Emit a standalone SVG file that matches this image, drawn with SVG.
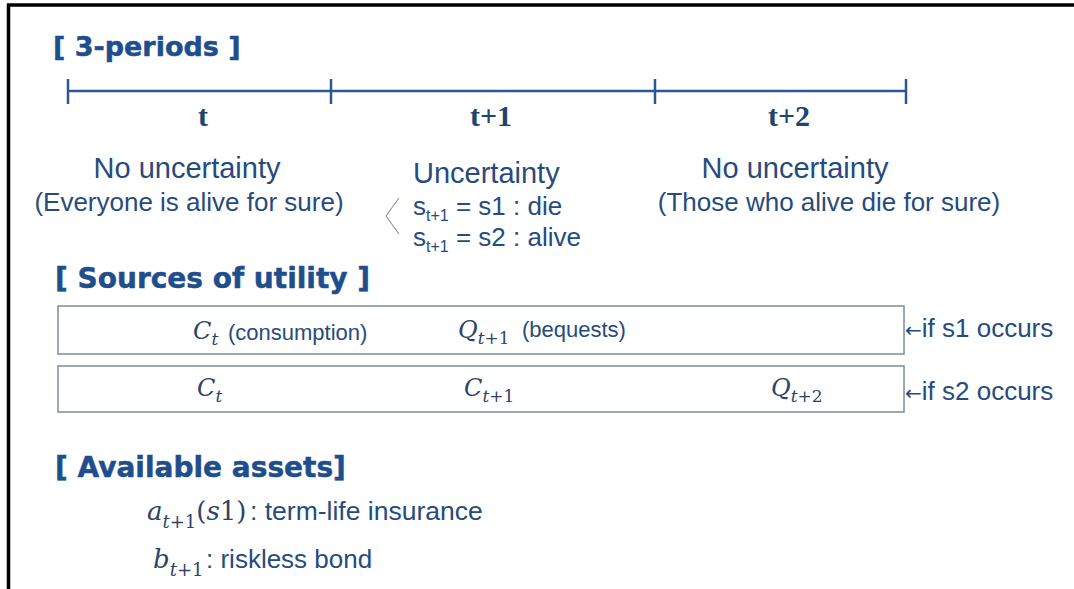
<svg xmlns="http://www.w3.org/2000/svg" width="1074" height="589" viewBox="0 0 1074 589">
<style>
.frame{stroke:#000;stroke-width:3.5;fill:none}
.head{font-family:"DejaVu Sans",sans-serif;font-weight:bold;fill:#1F4E8C;stroke:#1F4E8C;stroke-width:0.5}
.tl{stroke:#2B5797;stroke-width:2.5;fill:none}
.per{font-family:"Liberation Serif",serif;font-weight:bold;font-size:30px;fill:#1F4470;text-anchor:middle}
.txt{font-family:"Liberation Sans",Arial,sans-serif;fill:#264B7D}
.math{font-family:"DejaVu Serif",serif;font-style:italic;fill:#2D4466}
.up{font-style:normal}
.arr{font-family:"DejaVu Sans",sans-serif;font-size:20px}
.box{fill:#fff;stroke:#7F8C9C;stroke-width:1.5}
</style>
<rect width="1074" height="589" fill="#fff"/>
<g id="frame">
<line class="frame" x1="7" y1="5" x2="1074" y2="5"/>
<line class="frame" x1="8.5" y1="4" x2="8.5" y2="589"/>
</g>
<g id="title-periods"><text class="head" x="53" y="56" font-size="27">[ 3-periods ]</text></g>
<g id="timeline">
<line class="tl" x1="68" y1="91" x2="906" y2="91"/>
<line class="tl" x1="68" y1="79" x2="68" y2="104"/>
<line class="tl" x1="331" y1="79" x2="331" y2="104"/>
<line class="tl" x1="655" y1="79" x2="655" y2="104"/>
<line class="tl" x1="906" y1="79" x2="906" y2="104"/>
</g>
<g id="period-t">
<text class="per" x="203" y="126">t</text>
<text class="txt" x="187" y="178" font-size="29" text-anchor="middle">No uncertainty</text>
<text class="txt" x="189" y="211" font-size="26" text-anchor="middle">(Everyone is alive for sure)</text>
</g>
<g id="period-t1">
<text class="per" x="491" y="126">t+1</text>
<text class="txt" x="413" y="183" font-size="29">Uncertainty</text>
<polyline points="399,198 386,216 399,234" fill="none" stroke="#9A9A9A" stroke-width="1.2"/>
<text class="txt" x="413" y="215" font-size="26">s<tspan font-size="16" dy="6">t+1</tspan><tspan dy="-6"> = s1 : die</tspan></text>
<text class="txt" x="413" y="246" font-size="26">s<tspan font-size="16" dy="6">t+1</tspan><tspan dy="-6"> = s2 : alive</tspan></text>
</g>
<g id="period-t2">
<text class="per" x="789" y="126">t+2</text>
<text class="txt" x="795" y="178" font-size="29" text-anchor="middle">No uncertainty</text>
<text class="txt" x="829" y="211" font-size="26" text-anchor="middle">(Those who alive die for sure)</text>
</g>
<g id="title-utility"><text class="head" x="55" y="288" font-size="28">[ Sources of utility ]</text></g>
<g id="row-s1">
<rect class="box" x="58" y="306" width="846" height="48"/>
<text class="math" x="193" y="339" font-size="24">C<tspan font-size="17" dy="6">t</tspan></text>
<text class="txt" x="228" y="340" font-size="22">(consumption)</text>
<text class="math" x="458" y="338" font-size="24">Q<tspan font-size="17" dy="6">t</tspan><tspan class="up" font-size="17">+1</tspan></text>
<text class="txt" x="522" y="337" font-size="22">(bequests)</text>
<text class="txt" x="905" y="337" font-size="26"><tspan class="arr">←</tspan>if s1 occurs</text>
</g>
<g id="row-s2">
<rect class="box" x="58" y="366" width="846" height="46"/>
<text class="math" x="197" y="396" font-size="24">C<tspan font-size="17" dy="6">t</tspan></text>
<text class="math" x="464" y="396" font-size="24">C<tspan font-size="17" dy="6">t</tspan><tspan class="up" font-size="17">+1</tspan></text>
<text class="math" x="771" y="396" font-size="24">Q<tspan font-size="17" dy="6">t</tspan><tspan class="up" font-size="17">+2</tspan></text>
<text class="txt" x="905" y="400" font-size="26"><tspan class="arr">←</tspan>if s2 occurs</text>
</g>
<g id="title-assets"><text class="head" x="55" y="477" font-size="28">[ Available assets]</text></g>
<g id="asset-a">
<text class="math" x="147" y="520" font-size="26">a<tspan font-size="18" dy="8">t</tspan><tspan class="up" font-size="18">+1</tspan><tspan class="up" dy="-8">(</tspan>s<tspan class="up">1)</tspan></text>
<text class="txt" x="250" y="520" font-size="26.5">: term-life insurance</text>
</g>
<g id="asset-b">
<text class="math" x="153" y="568" font-size="26">b<tspan font-size="18" dy="8">t</tspan><tspan class="up" font-size="18">+1</tspan></text>
<text class="txt" x="206" y="568" font-size="26">: riskless bond</text>
</g>
</svg>
